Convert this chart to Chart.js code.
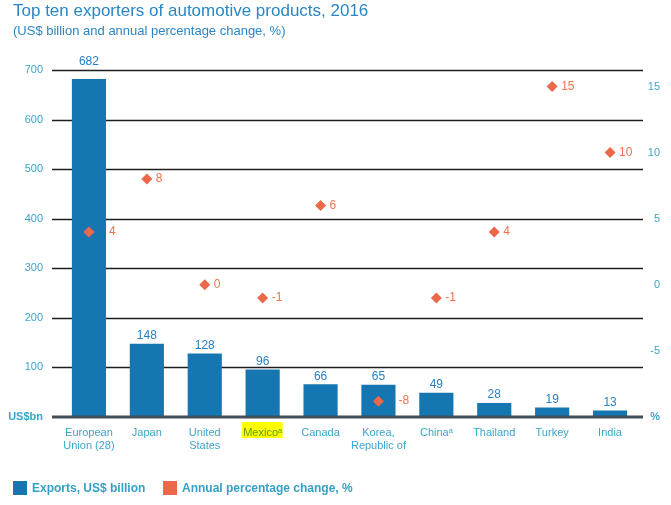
<!DOCTYPE html>
<html>
<head>
<meta charset="utf-8">
<title>Top ten exporters of automotive products, 2016</title>
<script src="https://cdn.jsdelivr.net/npm/chart.js@4.4.1/dist/chart.umd.min.js"></script>
<style>
  body { margin: 0; background: #fff; font-family: "Liberation Sans", Arial, sans-serif; }
  #wrap { position: relative; width: 671px; height: 505px; overflow: hidden; }
  #chart { position: absolute; left: 0; top: 0; }
  .title { position: absolute; left: 13px; top: 1px; font-size: 17px; color: #2a86c6; white-space: nowrap; }
  .subtitle { position: absolute; left: 13px; top: 23px; font-size: 13px; color: #2a86c6; white-space: nowrap; }
  .legend { position: absolute; top: 481px; height: 14px; line-height: 14px; font-size: 12px; font-weight: bold; color: #35a0c6; white-space: nowrap; }
  .legend span { display: inline-block; width: 14px; height: 14px; vertical-align: top; margin-right: 5px; }
</style>
</head>
<body>
<div id="wrap">
  <canvas id="chart" width="671" height="505"></canvas>
  <div class="title">Top ten exporters of automotive products, 2016</div>
  <div class="subtitle">(US$ billion and annual percentage change, %)</div>
  <div class="legend" style="left:13px"><span style="background:#1576b2"></span>Exports, US$ billion</div>
  <div class="legend" style="left:163px"><span style="background:#ec684a"></span>Annual percentage change, %</div>
</div>
<script>
/* ------------------- DATA ------------------- */
const categories = [
  ["European", "Union (28)"], "Japan", ["United", "States"], "Mexico\u1d43", "Canada",
  ["Korea,", "Republic of"], "China\u1d43", "Thailand", "Turkey", "India"
];
const exportsBn = [682, 148, 128, 96, 66, 65, 49, 28, 19, 13];
// where the markers sit on the % axis, and the figures printed next to them
const changeValues = [4, 8, 0, -1, 6, -8.8, -1, 4, 15, 10];
const changeLabels = ["4", "8", "0", "-1", "6", "-8", "-1", "4", "15", "10"];
const leftTicks = [0, 100, 200, 300, 400, 500, 600, 700];
const rightTicks = [-10, -5, 0, 5, 10, 15];

/* ------------------- STYLE ------------------- */
const BLUE = "#1576b2";
const ORANGE = "#ec684a";
const TICK = "#3aa5cb";
const FONT = "'Liberation Sans', Arial, sans-serif";

/* ------------------- PLUGINS ------------------- */
const gridPlugin = {
  id: "grid",
  beforeDraw(chart) {
    // yellow highlight behind the Mexico label
    const x = chart.scales.x;
    const cx = x.getPixelForTick(3);
    const ctx = chart.ctx;
    ctx.save();
    ctx.fillStyle = "#ffff00";
    ctx.fillRect(cx - 21, x.top + 5, 41, 16);
    ctx.restore();
  },
  beforeDatasetsDraw(chart) {
    const y = chart.scales.y;
    const { left, right } = chart.chartArea;
    const ctx = chart.ctx;
    ctx.save();
    ctx.strokeStyle = "#1e1e1e";
    ctx.lineWidth = 1.3;
    leftTicks.filter(v => v > 0).forEach(v => {
      const py = Math.round(y.getPixelForValue(v)) + 0.5;
      ctx.beginPath();
      ctx.moveTo(left - 8, py);
      ctx.lineTo(right + 4, py);
      ctx.stroke();
    });
    ctx.restore();
  },
  afterDatasetsDraw(chart) {
    const y = chart.scales.y;
    const { left, right, top } = chart.chartArea;
    const ctx = chart.ctx;
    ctx.save();
    // baseline
    ctx.strokeStyle = "#434f57";
    ctx.lineWidth = 3;
    const py = y.getPixelForValue(0);
    ctx.beginPath();
    ctx.moveTo(left - 8, py);
    ctx.lineTo(right + 4, py);
    ctx.stroke();

    // bar values (kept above the top gridline when the bar reaches it)
    const bars = chart.getDatasetMeta(1).data;
    ctx.font = "12px " + FONT;
    ctx.fillStyle = "#2581c4";
    ctx.textAlign = "center";
    ctx.textBaseline = "middle";
    bars.forEach((b, i) => {
      const ly = b.y - 8 < top + 10 ? top - 8 : b.y - 8;
      ctx.fillText(String(exportsBn[i]), b.x, ly);
    });

    // change labels
    const pts = chart.getDatasetMeta(0).data;
    ctx.fillStyle = "#f0714f";
    ctx.textAlign = "left";
    pts.forEach((p, i) => {
      const b = bars[i];
      const inside = p.y > b.y;
      const lx = inside ? b.x + b.width / 2 + 3 : p.x + 9;
      ctx.fillText(changeLabels[i], lx, p.y);
    });
    ctx.restore();
  }
};

/* ------------------- CHART ------------------- */
new Chart(document.getElementById("chart"), {
  type: "bar",
  data: {
    labels: categories,
    datasets: [
      {
        type: "line",
        label: "Annual percentage change, %",
        data: changeValues,
        yAxisID: "y1",
        showLine: false,
        pointStyle: "rectRot",
        pointRadius: 5.5,
        pointBackgroundColor: ORANGE,
        pointBorderWidth: 0,
        order: 0
      },
      {
        label: "Exports, US$ billion",
        data: exportsBn,
        yAxisID: "y",
        backgroundColor: BLUE,
        barPercentage: 0.59,
        categoryPercentage: 1,
        order: 1
      }
    ]
  },
  options: {
    responsive: false,
    animation: false,
    layout: { padding: { top: 70, left: 0, right: 11, bottom: 0 } },
    plugins: { legend: { display: false }, tooltip: { enabled: false } },
    scales: {
      x: {
        grid: { display: false, drawTicks: false },
        border: { display: false },
        ticks: {
          padding: 9,
          maxRotation: 0,
          autoSkip: false,
          font: { family: FONT, size: 11 },
          color: ctx => ctx.index === 3 ? "#5a9e1a" : TICK
        },
        afterFit: s => { s.height = 88; }
      },
      y: {
        position: "left",
        min: 0,
        max: 700,
        grid: { display: false, drawTicks: false },
        border: { display: false },
        afterBuildTicks: s => { s.ticks = leftTicks.map(v => ({ value: v })); },
        ticks: {
          padding: 17,
          color: TICK,
          font: ctx => ({ family: FONT, size: 11, weight: ctx.tick && ctx.tick.value === 0 ? "bold" : "normal" }),
          callback: v => v === 0 ? "US$bn" : v
        },
        afterFit: s => { s.width = 60; }
      },
      y1: {
        position: "right",
        min: -10,
        max: 16.25,
        grid: { display: false, drawTicks: false },
        border: { display: false },
        afterBuildTicks: s => { s.ticks = rightTicks.map(v => ({ value: v })); },
        ticks: {
          padding: 8,
          crossAlign: "far",
          color: TICK,
          font: ctx => ({ family: FONT, size: 11, weight: ctx.tick && ctx.tick.value === -10 ? "bold" : "normal" }),
          callback: v => v === -10 ? "%" : v
        },
        afterFit: s => { s.width = 21; }
      }
    }
  },
  plugins: [gridPlugin]
});
</script>
</body>
</html>
